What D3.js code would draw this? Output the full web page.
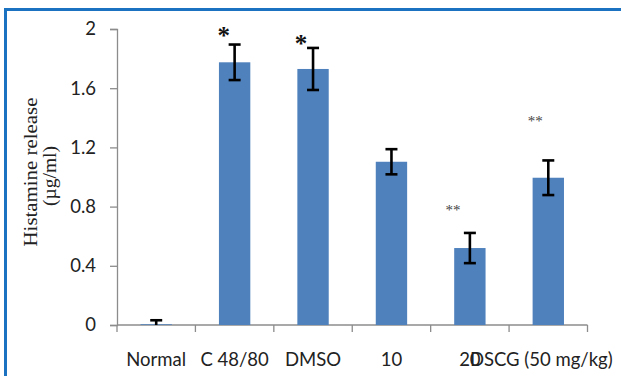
<!DOCTYPE html>
<html>
<head>
<meta charset="utf-8">
<script src="https://cdn.jsdelivr.net/npm/d3@7/dist/d3.min.js"></script>
<style>
  html, body { margin: 0; padding: 0; background: #fff; }
  svg { display: block; }
</style>
</head>
<body>
<script>
// Histamine release by treatment group (mean ± error)
const categories = ["Normal", "C 48/80", "DMSO", "10", "20", "DSCG (50 mg/kg)"];
const means      = [0.005, 1.775, 1.73, 1.103, 0.52, 0.995];
const errors     = [0.027, 0.12, 0.142, 0.085, 0.102, 0.117];
const marks      = ["", "*", "*", "", "**", "**"];
const yTicks     = [0, 0.4, 0.8, 1.2, 1.6, 2];

const W = 621, H = 376;
const margin = { left: 117, right: 33.5, top: 29, bottom: 51 };

const svg = d3.select("body").append("svg")
  .attr("width", W).attr("height", H);

// blue frame edges (top and left)
svg.append("line").attr("x1", 5).attr("x2", W).attr("y1", 9.5).attr("y2", 9.5)
  .attr("stroke", "#1a72c0").attr("stroke-width", 3);
svg.append("line").attr("x1", 5.5).attr("x2", 5.5).attr("y1", 8).attr("y2", H)
  .attr("stroke", "#1a72c0").attr("stroke-width", 3);

const x = d3.scaleBand()
  .domain(categories)
  .range([margin.left, W - margin.right])
  .paddingInner(0.6).paddingOuter(0.3);

const xOuter = d3.scaleBand()
  .domain(categories)
  .range([margin.left, W - margin.right]);

const y = d3.scaleLinear().domain([0, 2]).range([H - margin.bottom, margin.top]);

const axisColor = "#8c8c8c";
const tickFont = "Lato, 'Open Sans', sans-serif";
const tickSize = 18.5;

// y axis
const yAxis = svg.append("g")
  .attr("transform", `translate(${margin.left},0)`)
  .call(d3.axisLeft(y).tickValues(yTicks).tickFormat(d3.format("")).tickSizeOuter(0).tickSize(7).tickPadding(14));
yAxis.select(".domain").attr("stroke", axisColor).attr("stroke-width", 1.3);
yAxis.selectAll(".tick line").attr("stroke", axisColor).attr("stroke-width", 1.3);
yAxis.selectAll(".tick text")
  .attr("fill", "#222").attr("font-family", tickFont).attr("font-size", tickSize);

// x axis: ticks at category boundaries
const boundaries = categories.map(c => xOuter(c)).concat([W - margin.right]);
const xg = svg.append("g").attr("transform", `translate(0,${y(0)})`);
xg.append("line")
  .attr("x1", margin.left).attr("x2", W - margin.right)
  .attr("stroke", axisColor).attr("stroke-width", 1.3);
xg.selectAll("line.tk").data(boundaries).join("line").attr("class", "tk")
  .attr("x1", d => d).attr("x2", d => d).attr("y1", 0).attr("y2", 7)
  .attr("stroke", axisColor).attr("stroke-width", 1.3);
xg.selectAll("text").data(categories).join("text")
  .attr("x", (d, i) => xOuter(d) + xOuter.bandwidth() / 2 + (i === categories.length - 1 ? -7 : 0))
  .attr("y", 41)
  .attr("text-anchor", "middle")
  .attr("font-family", tickFont).attr("font-size", tickSize).attr("fill", "#222")
  .text(d => d);

// bars
svg.selectAll("rect.bar").data(categories).join("rect").attr("class", "bar")
  .attr("x", d => x(d))
  .attr("width", x.bandwidth())
  .attr("y", (d, i) => y(means[i]))
  .attr("height", (d, i) => y(0) - y(means[i]))
  .attr("fill", "#4f81bd");

// error bars
const eb = svg.append("g").attr("stroke", "#000").attr("stroke-width", 2.6);
categories.forEach((c, i) => {
  const cx = x(c) + x.bandwidth() / 2;
  const lo = Math.max(0, means[i] - errors[i]);
  const hi = means[i] + errors[i];
  eb.append("line").attr("x1", cx).attr("x2", cx).attr("y1", y(lo)).attr("y2", y(hi));
  eb.append("line").attr("x1", cx - 6).attr("x2", cx + 6).attr("y1", y(hi)).attr("y2", y(hi));
  if (means[i] - errors[i] > 0) {
    eb.append("line").attr("x1", cx - 6).attr("x2", cx + 6).attr("y1", y(lo)).attr("y2", y(lo));
  }
});

// significance marks
const markOffsets = [
  null,
  { dx: -11, dy: 9, size: 25, color: "#111", weight: "bold" },
  { dx: -12, dy: 4.5, size: 25, color: "#111", weight: "bold" },
  null,
  { dx: -17, dy: 22.5, size: 15, color: "#444", weight: "normal" },
  { dx: -13, dy: 39.5, size: 15, color: "#444", weight: "normal" }
];
categories.forEach((c, i) => {
  if (!marks[i]) return;
  const o = markOffsets[i];
  svg.append("text")
    .attr("x", x(c) + x.bandwidth() / 2 + o.dx)
    .attr("y", y(means[i] + errors[i]) - o.dy)
    .attr("text-anchor", "middle")
    .attr("font-family", "'Liberation Serif', serif")
    .attr("font-size", o.size)
    .attr("font-weight", o.weight)
    .attr("fill", o.color)
    .attr("dominant-baseline", "central")
    .text(marks[i]);
});

// y axis title (two lines, rotated)
const title = svg.append("text")
  .attr("transform", `translate(37,172) rotate(-90)`)
  .attr("text-anchor", "middle")
  .attr("font-family", "'Liberation Serif', 'Times New Roman', serif")
  .attr("font-size", 19).attr("fill", "#222");
title.append("tspan").attr("x", 0).attr("y", 0)
  .attr("textLength", 149).attr("lengthAdjust", "spacingAndGlyphs")
  .text("Histamine release");
title.append("tspan").attr("x", -4).attr("y", 19)
  .attr("textLength", 60).attr("lengthAdjust", "spacingAndGlyphs")
  .text("(µg/ml)");
</script>
</body>
</html>
